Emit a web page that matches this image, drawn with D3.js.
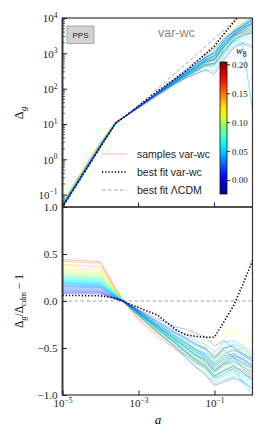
<!DOCTYPE html>
<html>
<head>
<meta charset="utf-8">
<script src="https://cdn.jsdelivr.net/npm/d3@7"></script>
<style>
  body { margin: 0; background: #fff; }
  svg { display: block; }
</style>
</head>
<body>
<div id="chart"></div>
<script>
// grid in log10(a)
const logA = [-5, -4, -3.6, -3.4, -3, -2.5, -2, -1.75, -1.5, -1.25, -1, -0.75, -0.5, -0.25, 0];
// best fit LCDM, log10(Delta_g)
const lcdmLogDelta = [-1.38, 0.33, 1.01, 1.18, 1.54, 2.0, 2.47, 2.7, 2.94, 3.18, 3.42, 3.66, 3.9, 4.14, 4.38];
// best fit var-wc, Delta_g/Delta_cdm - 1
const bestFitRatio = [0.06, 0.055, 0.03, -0.005, -0.07, -0.15, -0.31, -0.36, -0.375, -0.385, -0.385, -0.22, -0.05, 0.18, 0.43];
// samples: w8 and Delta_g/Delta_cdm - 1 on the grid
const sampleW8 = [0.17, 0.155, 0.14, 0.13, 0.12, 0.115, 0.11, 0.105, 0.10, 0.095,
  0.09, 0.085, 0.082, 0.078, 0.075, 0.072, 0.07, 0.067, 0.064, 0.062,
  0.06, 0.058, 0.055, 0.053, 0.05, 0.048, 0.046, 0.044, 0.042, 0.04,
  0.037, 0.034, 0.03, 0.026, 0.022, 0.018, 0.013, 0.008, 0.004, 0.0];
const sampleRatio = [
  [0.44, 0.42, 0.13, 0.01, -0.20, -0.38, -0.52, -0.58, -0.66, -0.70, -0.80, -0.74, -0.70, -0.74, -0.82],
  [0.42, 0.40, 0.12, 0.00, -0.19, -0.35, -0.48, -0.55, -0.62, -0.66, -0.76, -0.66, -0.64, -0.70, -0.78],
  [0.39, 0.37, 0.12, 0.01, -0.17, -0.32, -0.46, -0.54, -0.60, -0.64, -0.72, -0.60, -0.58, -0.62, -0.70],
  [0.37, 0.355, 0.11, 0.00, -0.17, -0.34, -0.50, -0.58, -0.64, -0.72, -0.82, -0.76, -0.72, -0.76, -0.84],
  [0.345, 0.33, 0.10, 0.00, -0.15, -0.28, -0.40, -0.46, -0.50, -0.44, -0.42, -0.30, -0.34, -0.38, -0.48],
  [0.335, 0.32, 0.10, 0.01, -0.15, -0.30, -0.43, -0.50, -0.58, -0.62, -0.70, -0.58, -0.52, -0.50, -0.58],
  [0.32, 0.305, 0.10, 0.00, -0.14, -0.29, -0.42, -0.47, -0.52, -0.50, -0.56, -0.40, -0.28, -0.36, -0.42],
  [0.31, 0.295, 0.09, 0.00, -0.15, -0.31, -0.46, -0.53, -0.60, -0.66, -0.78, -0.70, -0.64, -0.70, -0.76],
  [0.30, 0.285, 0.09, -0.01, -0.16, -0.33, -0.49, -0.57, -0.64, -0.70, -0.80, -0.74, -0.70, -0.66, -0.72],
  [0.29, 0.275, 0.09, 0.00, -0.13, -0.27, -0.39, -0.45, -0.52, -0.56, -0.64, -0.52, -0.46, -0.54, -0.60],
  [0.28, 0.265, 0.08, 0.00, -0.14, -0.29, -0.44, -0.51, -0.58, -0.64, -0.74, -0.64, -0.60, -0.66, -0.72],
  [0.27, 0.255, 0.08, 0.01, -0.13, -0.27, -0.40, -0.46, -0.53, -0.58, -0.68, -0.60, -0.56, -0.50, -0.56],
  [0.265, 0.25, 0.08, 0.00, -0.15, -0.31, -0.47, -0.55, -0.62, -0.68, -0.79, -0.72, -0.70, -0.76, -0.86],
  [0.255, 0.24, 0.08, 0.00, -0.12, -0.25, -0.37, -0.43, -0.50, -0.55, -0.62, -0.50, -0.54, -0.60, -0.66],
  [0.25, 0.235, 0.07, 0.00, -0.14, -0.30, -0.45, -0.52, -0.59, -0.65, -0.76, -0.68, -0.66, -0.72, -0.80],
  [0.245, 0.23, 0.07, -0.01, -0.15, -0.32, -0.49, -0.57, -0.65, -0.72, -0.84, -0.80, -0.76, -0.82, -0.90],
  [0.24, 0.225, 0.07, 0.00, -0.13, -0.28, -0.42, -0.48, -0.55, -0.60, -0.70, -0.62, -0.60, -0.68, -0.74],
  [0.23, 0.215, 0.07, 0.00, -0.14, -0.29, -0.44, -0.51, -0.58, -0.63, -0.74, -0.66, -0.68, -0.86, -0.999],
  [0.225, 0.21, 0.06, 0.01, -0.11, -0.23, -0.35, -0.40, -0.46, -0.50, -0.58, -0.48, -0.44, -0.52, -0.60],
  [0.22, 0.205, 0.06, 0.00, -0.14, -0.30, -0.46, -0.54, -0.62, -0.68, -0.80, -0.74, -0.70, -0.76, -0.82],
  [0.215, 0.20, 0.06, 0.00, -0.13, -0.27, -0.41, -0.47, -0.54, -0.58, -0.68, -0.60, -0.56, -0.62, -0.68],
  [0.21, 0.195, 0.06, -0.01, -0.15, -0.32, -0.49, -0.58, -0.66, -0.73, -0.85, -0.80, -0.74, -0.80, -0.88],
  [0.205, 0.19, 0.06, 0.00, -0.12, -0.26, -0.39, -0.45, -0.52, -0.56, -0.66, -0.56, -0.52, -0.58, -0.64],
  [0.20, 0.185, 0.05, 0.00, -0.13, -0.28, -0.43, -0.50, -0.57, -0.62, -0.74, -0.68, -0.62, -0.68, -0.76],
  [0.195, 0.18, 0.05, 0.01, -0.11, -0.24, -0.36, -0.41, -0.47, -0.50, -0.60, -0.50, -0.46, -0.50, -0.58],
  [0.19, 0.175, 0.05, 0.00, -0.14, -0.30, -0.46, -0.55, -0.63, -0.70, -0.82, -0.76, -0.72, -0.88, -0.999],
  [0.185, 0.17, 0.05, 0.00, -0.12, -0.27, -0.41, -0.48, -0.55, -0.60, -0.72, -0.64, -0.58, -0.62, -0.70],
  [0.18, 0.165, 0.05, -0.01, -0.16, -0.34, -0.52, -0.61, -0.70, -0.77, -0.88, -0.84, -0.80, -0.85, -0.93],
  [0.175, 0.16, 0.05, 0.00, -0.11, -0.25, -0.38, -0.44, -0.51, -0.55, -0.66, -0.56, -0.52, -0.56, -0.62],
  [0.17, 0.155, 0.04, 0.00, -0.13, -0.28, -0.43, -0.50, -0.58, -0.64, -0.76, -0.68, -0.64, -0.70, -0.76],
  [0.16, 0.15, 0.04, 0.00, -0.10, -0.21, -0.32, -0.36, -0.42, -0.46, -0.54, -0.44, -0.42, -0.48, -0.54],
  [0.155, 0.145, 0.04, -0.01, -0.14, -0.30, -0.46, -0.55, -0.64, -0.70, -0.82, -0.78, -0.72, -0.78, -0.84],
  [0.15, 0.14, 0.04, 0.00, -0.12, -0.26, -0.40, -0.46, -0.54, -0.59, -0.70, -0.62, -0.58, -0.64, -0.70],
  [0.14, 0.13, 0.03, 0.00, -0.10, -0.23, -0.35, -0.40, -0.47, -0.52, -0.62, -0.52, -0.60, -0.72, -0.80],
  [0.13, 0.12, 0.03, 0.00, -0.13, -0.29, -0.45, -0.53, -0.62, -0.68, -0.80, -0.74, -0.68, -0.76, -0.84],
  [0.12, 0.11, 0.03, 0.00, -0.11, -0.25, -0.38, -0.44, -0.52, -0.57, -0.68, -0.58, -0.56, -0.62, -0.68],
  [0.11, 0.10, 0.02, 0.00, -0.09, -0.19, -0.28, -0.30, -0.34, -0.38, -0.48, -0.42, -0.50, -0.58, -0.64],
  [0.10, 0.095, 0.02, -0.01, -0.15, -0.33, -0.50, -0.60, -0.70, -0.78, -0.90, -0.86, -0.82, -0.86, -0.94],
  [0.09, 0.085, 0.02, 0.00, -0.12, -0.27, -0.42, -0.49, -0.57, -0.62, -0.74, -0.66, -0.60, -0.66, -0.72],
  [0.08, 0.075, 0.02, 0.00, -0.10, -0.22, -0.34, -0.39, -0.45, -0.50, -0.60, -0.50, -0.48, -0.56, -0.62]
];
const xTicks = [-5, -3, -1];
const yTopTicks = [-1, 0, 1, 2, 3, 4];
const yBotTicks = [-1, -0.5, 0, 0.5, 1];
const cbarTicks = [0, 0.05, 0.1, 0.15, 0.2];
const cbarRange = [-0.024, 0.204];
const legendLabels = ["samples var-wc", "best fit var-wc", "best fit \u039BCDM"];

const W = 266, H = 443;
const left = 62.5, right = 252.5;
const topY0 = 18, topY1 = 207, botY1 = 395;

const svg = d3.select("#chart").append("svg").attr("width", W).attr("height", H);

const x = d3.scaleLog().domain([1e-5, 1]).range([left, right]);
const yTop = d3.scaleLog().domain([Math.pow(10, -1.35), 1e4]).range([topY1, topY0]);
const yBot = d3.scaleLinear().domain([-1, 1]).range([botY1, topY1]);

// matplotlib-like jet
function jet(t) {
  const c = v => Math.max(0, Math.min(1, v));
  const r = c(Math.min(4 * t - 1.5, -4 * t + 4.5));
  const g = c(Math.min(4 * t - 0.5, -4 * t + 3.5));
  const b = c(Math.min(4 * t + 0.5, -4 * t + 2.5));
  return d3.rgb(r * 255, g * 255, b * 255).formatHex();
}
const colorT = d3.scaleLinear().domain(cbarRange).range([0, 1]).clamp(true);
const color = w => jet(colorT(w));

const defs = svg.append("defs");
defs.append("clipPath").attr("id", "clipTop").append("rect")
  .attr("x", left).attr("y", topY0).attr("width", right - left).attr("height", topY1 - topY0);
defs.append("clipPath").attr("id", "clipBot").append("rect")
  .attr("x", left).attr("y", topY1).attr("width", right - left).attr("height", botY1 - topY1);

const pts = ratio => logA.map((la, i) => ({ a: Math.pow(10, la), r: ratio[i], d: Math.pow(10, lcdmLogDelta[i]) * (1 + ratio[i]) }));
const lineTop = d3.line().x(p => x(p.a)).y(p => yTop(Math.max(p.d, 1e-6)));
const lineBot = d3.line().x(p => x(p.a)).y(p => yBot(p.r));

const gTop = svg.append("g").attr("clip-path", "url(#clipTop)");
const gBot = svg.append("g").attr("clip-path", "url(#clipBot)");

// zero line under the samples
gBot.append("line")
  .attr("x1", left).attr("x2", right).attr("y1", yBot(0)).attr("y2", yBot(0))
  .attr("stroke", "#888").attr("stroke-width", 0.8).attr("stroke-dasharray", "3.5,2.5");

sampleRatio.forEach((row, k) => {
  const p = pts(row);
  gTop.append("path").attr("d", lineTop(p)).attr("fill", "none")
    .attr("stroke", color(sampleW8[k])).attr("stroke-width", 0.7).attr("stroke-opacity", 0.45);
  gBot.append("path").attr("d", lineBot(p)).attr("fill", "none")
    .attr("stroke", color(sampleW8[k])).attr("stroke-width", 0.7).attr("stroke-opacity", 0.45);
});

// best fit LCDM (dashed)
gTop.append("path").attr("d", lineTop(pts(logA.map(() => 0)))).attr("fill", "none")
  .attr("stroke", "#888").attr("stroke-width", 0.8).attr("stroke-dasharray", "3.5,2.5");

// best fit var-wc (dotted)
const bf = pts(bestFitRatio);
gTop.append("path").attr("d", lineTop(bf)).attr("fill", "none")
  .attr("stroke", "#000").attr("stroke-width", 1.6).attr("stroke-dasharray", "1.3,1.9");
gBot.append("path").attr("d", lineBot(bf)).attr("fill", "none")
  .attr("stroke", "#000").attr("stroke-width", 1.6).attr("stroke-dasharray", "1.3,1.9");

// frames
[[topY0, topY1], [topY1, botY1]].forEach(([y0, y1]) => {
  svg.append("rect").attr("x", left).attr("y", y0).attr("width", right - left).attr("height", y1 - y0)
    .attr("fill", "none").attr("stroke", "#333").attr("stroke-width", 1.2);
  svg.append("line").attr("x1", left).attr("x2", left).attr("y1", y0).attr("y2", y1)
    .attr("stroke", "#333").attr("stroke-width", 1.8);
});

const serif = "'Liberation Serif', 'DejaVu Serif', serif";
const sans = "'Liberation Sans', 'DejaVu Sans', sans-serif";

function powLabel(sel, e, anchor) {
  sel.text(null).attr("text-anchor", anchor);
  sel.append("tspan").text("10");
  sel.append("tspan").attr("dy", -4.5).attr("font-size", 7.5).text(e < 0 ? "\u2212" + (-e) : e);
}

// top panel y axis
const axTop = svg.append("g").attr("transform", `translate(${left},0)`)
  .call(d3.axisLeft(yTop).tickValues(yTopTicks.map(e => Math.pow(10, e))).tickSize(-4.5).tickPadding(5));
axTop.select(".domain").remove();
axTop.selectAll(".tick line").attr("stroke", "#222");
axTop.selectAll(".tick text").attr("font-family", serif).attr("font-size", 11).attr("fill", "#222")
  .attr("dy", "0.35em")
  .each(function(d) { powLabel(d3.select(this), Math.round(Math.log10(d)), "end"); });
// minor log ticks
const minors = [];
for (let e = -2; e < 4; e++) for (let m = 2; m <= 9; m++) {
  const v = m * Math.pow(10, e);
  if (v > yTop.domain()[0] && v < 1e4) minors.push(v);
}
svg.append("g").selectAll("line").data(minors).join("line")
  .attr("x1", left).attr("x2", left + 2.5).attr("y1", d => yTop(d)).attr("y2", d => yTop(d))
  .attr("stroke", "#222").attr("stroke-width", 0.7);

// ticks at bottom of top panel
svg.append("g").selectAll("line").data(xTicks).join("line")
  .attr("x1", d => x(Math.pow(10, d))).attr("x2", d => x(Math.pow(10, d)))
  .attr("y1", topY1).attr("y2", topY1 - 4.5).attr("stroke", "#222");

// bottom panel y axis
const axBot = svg.append("g").attr("transform", `translate(${left},0)`)
  .call(d3.axisLeft(yBot).tickValues(yBotTicks).tickSize(-4.5).tickPadding(5)
    .tickFormat(d => (d < 0 ? "\u2212" : "") + d3.format(".1f")(Math.abs(d))));
axBot.select(".domain").remove();
axBot.selectAll(".tick line").attr("stroke", "#222");
axBot.selectAll(".tick text").attr("font-family", serif).attr("font-size", 11).attr("fill", "#222");

// bottom x axis
const axX = svg.append("g").attr("transform", `translate(0,${botY1})`)
  .call(d3.axisBottom(x).tickValues(xTicks.map(e => Math.pow(10, e))).tickSize(-4.5));
axX.select(".domain").remove();
axX.selectAll(".tick line").attr("stroke", "#222");
axX.selectAll(".tick text").attr("font-family", serif).attr("font-size", 11).attr("fill", "#222")
  .attr("y", 12).attr("dy", 0)
  .each(function(d) { powLabel(d3.select(this), Math.round(Math.log10(d)), "middle"); });

// axis labels
svg.append("text").attr("transform", "translate(23,113) rotate(-90)").attr("text-anchor", "middle")
  .attr("font-family", serif).attr("font-size", 13)
  .call(t => { t.append("tspan").text("\u0394"); t.append("tspan").attr("dy", 3).attr("font-size", 9).attr("font-style", "italic").text("g"); });
svg.append("text").attr("transform", "translate(23,301) rotate(-90)").attr("text-anchor", "middle")
  .attr("font-family", serif).attr("font-size", 11.5)
  .call(t => {
    t.append("tspan").text("\u0394");
    t.append("tspan").attr("dy", 2.5).attr("font-size", 8).attr("font-style", "italic").text("g");
    t.append("tspan").attr("dy", -2.5).text("/\u0394");
    t.append("tspan").attr("dy", 2.5).attr("font-size", 8).text("cdm");
    t.append("tspan").attr("dy", -2.5).text(" \u2212 1");
  });
svg.append("text").attr("x", 158).attr("y", 424).attr("text-anchor", "middle")
  .attr("font-family", serif).attr("font-style", "italic").attr("font-size", 13).text("a");

// PPS box and model name
svg.append("rect").attr("x", 67).attr("y", 26).attr("width", 27).attr("height", 17.5)
  .attr("fill", "#d3d3d3").attr("stroke", "#9a9a9a").attr("stroke-width", 0.8);
svg.append("text").attr("x", 80.5).attr("y", 38).attr("text-anchor", "middle")
  .attr("font-family", sans).attr("font-size", 8).attr("fill", "#222").text("PPS");
svg.append("text").attr("x", 158).attr("y", 37).attr("font-family", sans).attr("font-size", 12.5)
  .attr("fill", "#8a8a8a").text("var-wc");

// legend
const legY = [154, 172, 190];
const leg = svg.append("g");
leg.append("line").attr("x1", 102).attr("x2", 127).attr("y1", legY[0]).attr("y2", legY[0])
  .attr("stroke", "#ff0000").attr("stroke-opacity", 0.2).attr("stroke-width", 1.5);
leg.append("line").attr("x1", 102).attr("x2", 127).attr("y1", legY[1]).attr("y2", legY[1])
  .attr("stroke", "#000").attr("stroke-width", 1.6).attr("stroke-dasharray", "1.3,1.9");
leg.append("line").attr("x1", 102).attr("x2", 127).attr("y1", legY[2]).attr("y2", legY[2])
  .attr("stroke", "#888").attr("stroke-width", 0.8).attr("stroke-dasharray", "3.5,2.5");
leg.selectAll("text").data(legendLabels).join("text")
  .attr("x", 137).attr("y", (d, i) => legY[i] + 4)
  .attr("font-family", sans).attr("font-size", 10.5).attr("fill", "#222").text(d => d);

// colorbar
const cb = { x: 220, y: 62, w: 7, h: 132 };
const cbScale = d3.scaleLinear().domain(cbarRange).range([cb.y + cb.h, cb.y]);
const grad = defs.append("linearGradient").attr("id", "jetGrad")
  .attr("x1", 0).attr("y1", 1).attr("x2", 0).attr("y2", 0);
d3.range(0, 1.0001, 0.05).forEach(t => grad.append("stop").attr("offset", t).attr("stop-color", jet(t)));
svg.append("rect").attr("x", cb.x).attr("y", cb.y).attr("width", cb.w).attr("height", cb.h)
  .attr("fill", "url(#jetGrad)").attr("stroke", "#111").attr("stroke-width", 0.8);
const cbAx = svg.append("g").attr("transform", `translate(${cb.x + cb.w},0)`)
  .call(d3.axisRight(cbScale).tickValues(cbarTicks).tickSize(3).tickPadding(2).tickFormat(d3.format(".2f")));
cbAx.select(".domain").remove();
cbAx.selectAll(".tick line").attr("stroke", "#222");
cbAx.selectAll(".tick text").attr("font-family", serif).attr("font-size", 9).attr("fill", "#222");
svg.append("text").attr("x", 236).attr("y", 54).attr("font-family", serif).attr("font-size", 10)
  .call(t => {
    t.append("tspan").attr("font-style", "italic").text("w");
    t.append("tspan").attr("dy", 3).attr("font-size", 7.5).text("8");
  });
</script>
</body>
</html>
